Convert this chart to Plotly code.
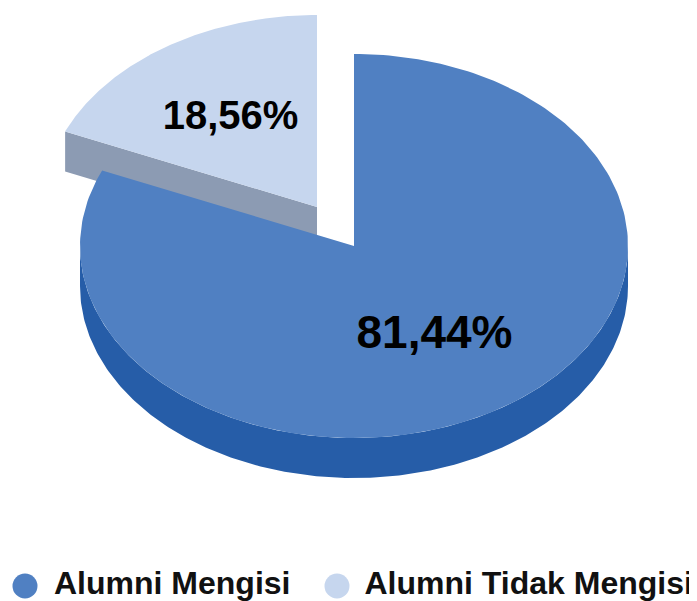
import numpy as np
import plotly.graph_objects as go

categories = ["Alumni Mengisi", "Alumni Tidak Mengisi"]
values = [81.44, 18.56]
labels = ["81,44%", "18,56%"]
top_colors = ["#5080C2", "#C6D6EE"]
side_colors = ["#265DA8", "#8C9BB3"]

W, H = 697, 601
PAGE = 8  # page margin around the figure
rx, ry, depth = 274, 192, 40
cx, cy = 354, 246
ex_dx, ex_dy = -37, -39


def ang(p):
    return p / 100 * 2 * np.pi


def rim(a0, a1, ox, oy, n=240):
    t = np.linspace(a0, a1, n)
    return ox + rx * np.sin(t), oy - ry * np.cos(t)


fig = go.Figure()
a_split = ang(values[0])

# exploded slice wall (behind the main slice)
x2, y2 = rim(a_split, 2 * np.pi, cx + ex_dx, cy + ex_dy)
ox, oy = cx + ex_dx, cy + ex_dy
wx = [x2[0], ox, ox, x2[0], x2[0]]
wy = [y2[0], oy, oy + depth, y2[0] + depth, y2[0]]
fig.add_trace(go.Scatter(x=wx, y=wy, mode="lines", fill="toself", fillcolor=side_colors[1],
                         line=dict(width=0), showlegend=False, hoverinfo="skip"))
fig.add_trace(go.Scatter(x=[ox, *x2, ox], y=[oy, *y2, oy], mode="lines", fill="toself",
                         fillcolor=top_colors[1], line=dict(width=0), showlegend=False, hoverinfo="skip"))

# main slice: side band then top
a_lo = np.pi / 2
a_hi = 3 * np.pi / 2
bx, by = rim(a_lo, a_hi, cx, cy)
bx2, by2 = rim(a_lo, a_hi, cx, cy + depth)
fig.add_trace(go.Scatter(x=[*bx, *bx2[::-1], bx[0]], y=[*by, *by2[::-1], by[0]], mode="lines",
                         fill="toself", fillcolor=side_colors[0], line=dict(width=0),
                         showlegend=False, hoverinfo="skip"))
x1, y1 = rim(0, a_split, cx, cy)
fig.add_trace(go.Scatter(x=[cx, *x1, cx], y=[cy, *y1, cy], mode="lines", fill="toself",
                         fillcolor=top_colors[0], line=dict(width=0), showlegend=False, hoverinfo="skip"))

# value labels
fig.add_trace(go.Scatter(x=[434.5], y=[336], mode="text", text=[f"<b>{labels[0]}</b>"],
                         textfont=dict(family="Liberation Sans", size=46, color="#000000"),
                         textposition="middle center", showlegend=False, hoverinfo="skip"))
fig.add_trace(go.Scatter(x=[230.5], y=[119], mode="text", text=[f"<b>{labels[1]}</b>"],
                         textfont=dict(family="Liberation Sans", size=40, color="#000000"),
                         textposition="middle center", showlegend=False, hoverinfo="skip"))

# legend
fig.add_trace(go.Scatter(x=[25, 337], y=[586, 586], mode="markers",
                         marker=dict(size=25, color=top_colors, line=dict(width=0)),
                         showlegend=False, hoverinfo="skip"))
fig.add_trace(go.Scatter(x=[54, 364.5], y=[585.5, 585.5], mode="text",
                         text=[f"<b>{c}</b>" for c in categories], textposition="middle right",
                         textfont=dict(family="Liberation Sans", size=32, color="#111111"),
                         showlegend=False, hoverinfo="skip"))

fig.update_layout(
    width=W - PAGE, height=H - PAGE, margin=dict(l=0, r=0, t=0, b=0),
    paper_bgcolor="white", plot_bgcolor="white",
    xaxis=dict(range=[PAGE, W], visible=False, fixedrange=True),
    yaxis=dict(range=[H, PAGE], visible=False, fixedrange=True),
)
fig.write_html("out.html", config={"displayModeBar": False})
